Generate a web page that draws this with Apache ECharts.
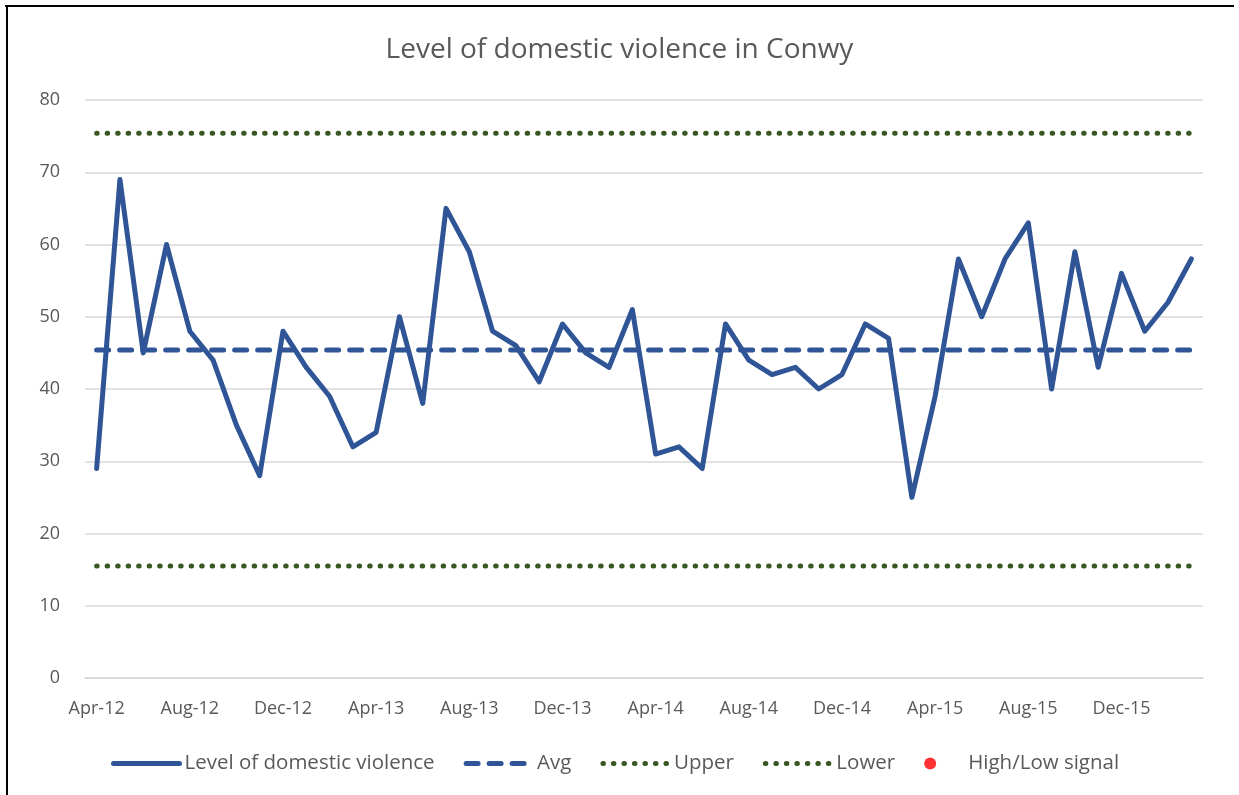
<!DOCTYPE html>
<html>
<head>
<meta charset="utf-8">
<script src="https://cdn.jsdelivr.net/npm/echarts@6/dist/echarts.min.js"></script>
<style>
  html, body { margin: 0; padding: 0; background: #fff; }
  #chart { width: 1239px; height: 795px; }
</style>
</head>
<body>
<div id="chart"></div>
<script>
// monthly counts, Apr-12 .. Mar-16
const months = [
  'Apr-12', 'May-12', 'Jun-12', 'Jul-12', 'Aug-12', 'Sep-12', 'Oct-12', 'Nov-12', 'Dec-12', 'Jan-13', 'Feb-13', 'Mar-13',
  'Apr-13', 'May-13', 'Jun-13', 'Jul-13', 'Aug-13', 'Sep-13', 'Oct-13', 'Nov-13', 'Dec-13', 'Jan-14', 'Feb-14', 'Mar-14',
  'Apr-14', 'May-14', 'Jun-14', 'Jul-14', 'Aug-14', 'Sep-14', 'Oct-14', 'Nov-14', 'Dec-14', 'Jan-15', 'Feb-15', 'Mar-15',
  'Apr-15', 'May-15', 'Jun-15', 'Jul-15', 'Aug-15', 'Sep-15', 'Oct-15', 'Nov-15', 'Dec-15', 'Jan-16', 'Feb-16', 'Mar-16'
];
const violence = [
  29, 69, 45, 60, 48, 44, 35, 28, 48, 43, 39, 32,
  34, 50, 38, 65, 59, 48, 46, 41, 49, 45, 43, 51,
  31, 32, 29, 49, 44, 42, 43, 40, 42, 49, 47, 25,
  39, 58, 50, 58, 63, 40, 59, 43, 56, 48, 52, 58
];
const avgValue = 45.4;
const upperValue = 75.4;
const lowerValue = 15.5;
const signals = []; // no high/low signal points in this period

const FONT = '"Open Sans", sans-serif';
const GREY = '#595959';
const BLUE = '#2F5597';
const GREEN = '#385723';

const solid = { color: BLUE, width: 5, cap: 'round', join: 'round' };
const dashed = { color: BLUE, width: 5, type: [12, 11], cap: 'round' };
const dotted = { color: GREEN, width: 5, type: [0.5, 10], cap: 'round' };

const chart = echarts.init(document.getElementById('chart'));
chart.setOption({
  animation: false,
  backgroundColor: '#fff',
  textStyle: { fontFamily: FONT },
  title: {
    text: 'Level of domestic violence in Conwy',
    left: 'center',
    top: 31,
    textStyle: { fontFamily: FONT, fontSize: 28, fontWeight: 'normal', color: GREY }
  },
  graphic: [
    { type: 'line', shape: { x1: 5, y1: 6, x2: 1234, y2: 6 }, style: { stroke: '#000', lineWidth: 2 } },
    { type: 'line', shape: { x1: 7, y1: 5, x2: 7, y2: 795 }, style: { stroke: '#000', lineWidth: 2 } }
  ],
  legend: {
    left: 106,
    top: 748,
    itemWidth: 66,
    itemHeight: 12,
    itemGap: 29,
    textStyle: { fontFamily: FONT, fontSize: 20.5, color: GREY },
    data: [
      { name: 'Level of domestic violence', lineStyle: solid, itemStyle: { opacity: 0 } },
      { name: 'Avg', lineStyle: dashed, itemStyle: { opacity: 0 } },
      { name: 'Upper', lineStyle: dotted, itemStyle: { opacity: 0 } },
      { name: 'Lower', lineStyle: dotted, itemStyle: { opacity: 0 } },
      { name: 'High/Low signal', icon: 'circle' }
    ]
  },
  grid: { left: 85, right: 36, top: 100, bottom: 117 },
  xAxis: {
    type: 'category',
    data: months,
    boundaryGap: true,
    axisTick: { show: false },
    axisLine: { lineStyle: { color: '#D9D9D9', width: 1.5 } },
    axisLabel: { interval: 3, margin: 22, fontFamily: FONT, fontSize: 18, color: GREY }
  },
  yAxis: {
    type: 'value',
    min: 0,
    max: 80,
    interval: 10,
    axisLine: { show: false },
    axisTick: { show: false },
    axisLabel: { margin: 25, fontFamily: FONT, fontSize: 18, color: GREY },
    splitLine: { lineStyle: { color: '#D9D9D9', width: 1.5 } }
  },
  series: [
    {
      name: 'Level of domestic violence',
      type: 'line',
      data: violence,
      symbol: 'none',
      z: 5,
      lineStyle: solid,
      itemStyle: { color: BLUE }
    },
    {
      name: 'Avg',
      type: 'line',
      data: months.map(() => avgValue),
      symbol: 'none',
      lineStyle: dashed,
      itemStyle: { color: BLUE }
    },
    {
      name: 'Upper',
      type: 'line',
      data: months.map(() => upperValue),
      symbol: 'none',
      lineStyle: dotted,
      itemStyle: { color: GREEN }
    },
    {
      name: 'Lower',
      type: 'line',
      data: months.map(() => lowerValue),
      symbol: 'none',
      lineStyle: dotted,
      itemStyle: { color: GREEN }
    },
    {
      name: 'High/Low signal',
      type: 'scatter',
      data: signals,
      symbolSize: 10,
      itemStyle: { color: '#FF0000' }
    }
  ]
});
window.addEventListener('resize', () => chart.resize());
</script>
</body>
</html>
